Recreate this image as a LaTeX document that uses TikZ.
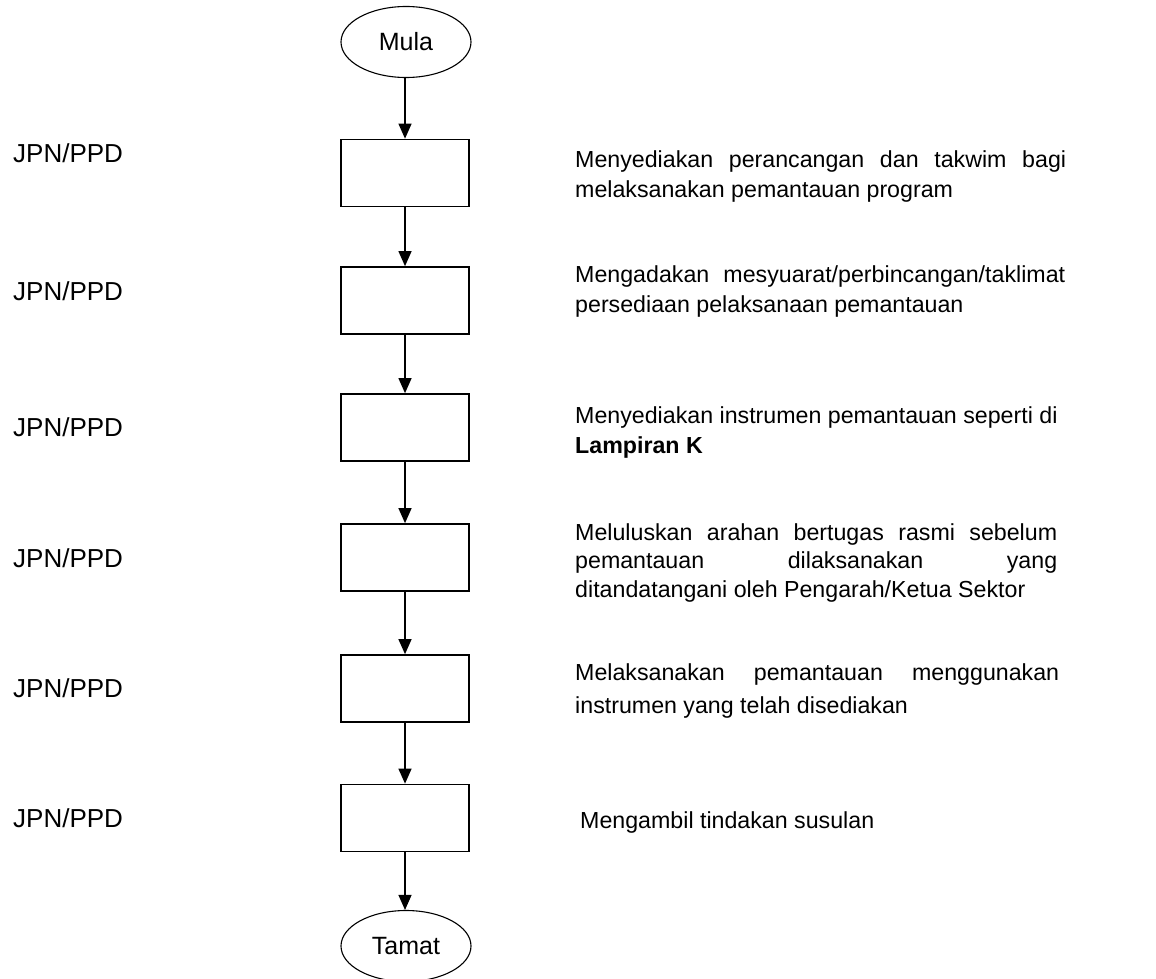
\documentclass[tikz,border=0pt]{standalone}
\usepackage{fontspec}
\setmainfont{Liberation Sans}
\usetikzlibrary{shapes.geometric,arrows.meta}

\begin{document}
\begin{tikzpicture}[x=1pt,y=-1pt,
  stepbox/.style={draw, line width=1.7pt, minimum width=128pt, minimum height=67pt, inner sep=0pt},
  term/.style={ellipse, draw, line width=1.1pt, minimum width=130pt, minimum height=71pt, inner sep=0pt,
    font=\fontsize{25}{30}\selectfont},
  flow/.style={-{Triangle[length=15pt,width=13pt]}, line width=1.2pt},
  who/.style={anchor=base west, inner sep=0pt, font=\fontsize{26}{30}\selectfont},
  desc/.style={anchor=base west, inner sep=0pt, font=\fontsize{23.2}{28}\selectfont}]

\useasboundingbox (0,0) rectangle (1156,979);

% terminals
\node[term] (start) at (406,42) {Mula};
\node[term] (end) at (406,946) {Tamat};

% process boxes
\node[stepbox] (s1) at (405,173) {};
\node[stepbox] (s2) at (405,300.5) {};
\node[stepbox] (s3) at (405,427.5) {};
\node[stepbox] (s4) at (405,557.5) {};
\node[stepbox] (s5) at (405,688.5) {};
\node[stepbox] (s6) at (405,818) {};

% connectors
\draw[flow] (start.south -| s1.north) -- (s1.north);
\draw[flow] (s1) -- (s2);
\draw[flow] (s2) -- (s3);
\draw[flow] (s3) -- (s4);
\draw[flow] (s4) -- (s5);
\draw[flow] (s5) -- (s6);
\draw[flow] (s6.south) -- (s6.south |- end.north);

% responsible party
\node[who] (w1) at (13,162) {JPN/PPD};
\node[who] (w2) at (13,300) {JPN/PPD};
\node[who] (w3) at (13,436) {JPN/PPD};
\node[who] (w4) at (13,567) {JPN/PPD};
\node[who] (w5) at (13,697) {JPN/PPD};
\node[who] (w6) at (13,827) {JPN/PPD};

% step descriptions
\node[desc] (d1a) at (575,167) {\makebox[491pt][s]{Menyediakan perancangan dan takwim bagi}};
\node[desc] (d1b) at (575,197) {melaksanakan pemantauan program};

\node[desc] (d2a) at (575,282) {\makebox[490pt][s]{Mengadakan mesyuarat/perbincangan/taklimat}};
\node[desc] (d2b) at (575,312) {persediaan pelaksanaan pemantauan};

\node[desc] (d3a) at (575,423) {Menyediakan instrumen pemantauan seperti di};
\node[desc] (d3b) at (575,453) {\bfseries Lampiran K};

\node[desc] (d4a) at (575,540) {\makebox[482pt][s]{Meluluskan arahan bertugas rasmi sebelum}};
\node[desc] (d4b) at (575,568.5) {\makebox[482pt][s]{pemantauan dilaksanakan yang}};
\node[desc] (d4c) at (575,597) {ditandatangani oleh Pengarah/Ketua Sektor};

\node[desc] (d5a) at (575,680) {\makebox[484pt][s]{Melaksanakan pemantauan menggunakan}};
\node[desc] (d5b) at (575,713) {instrumen yang telah disediakan};

\node[desc] (d6) at (580,828) {Mengambil tindakan susulan};

\end{tikzpicture}
\end{document}
